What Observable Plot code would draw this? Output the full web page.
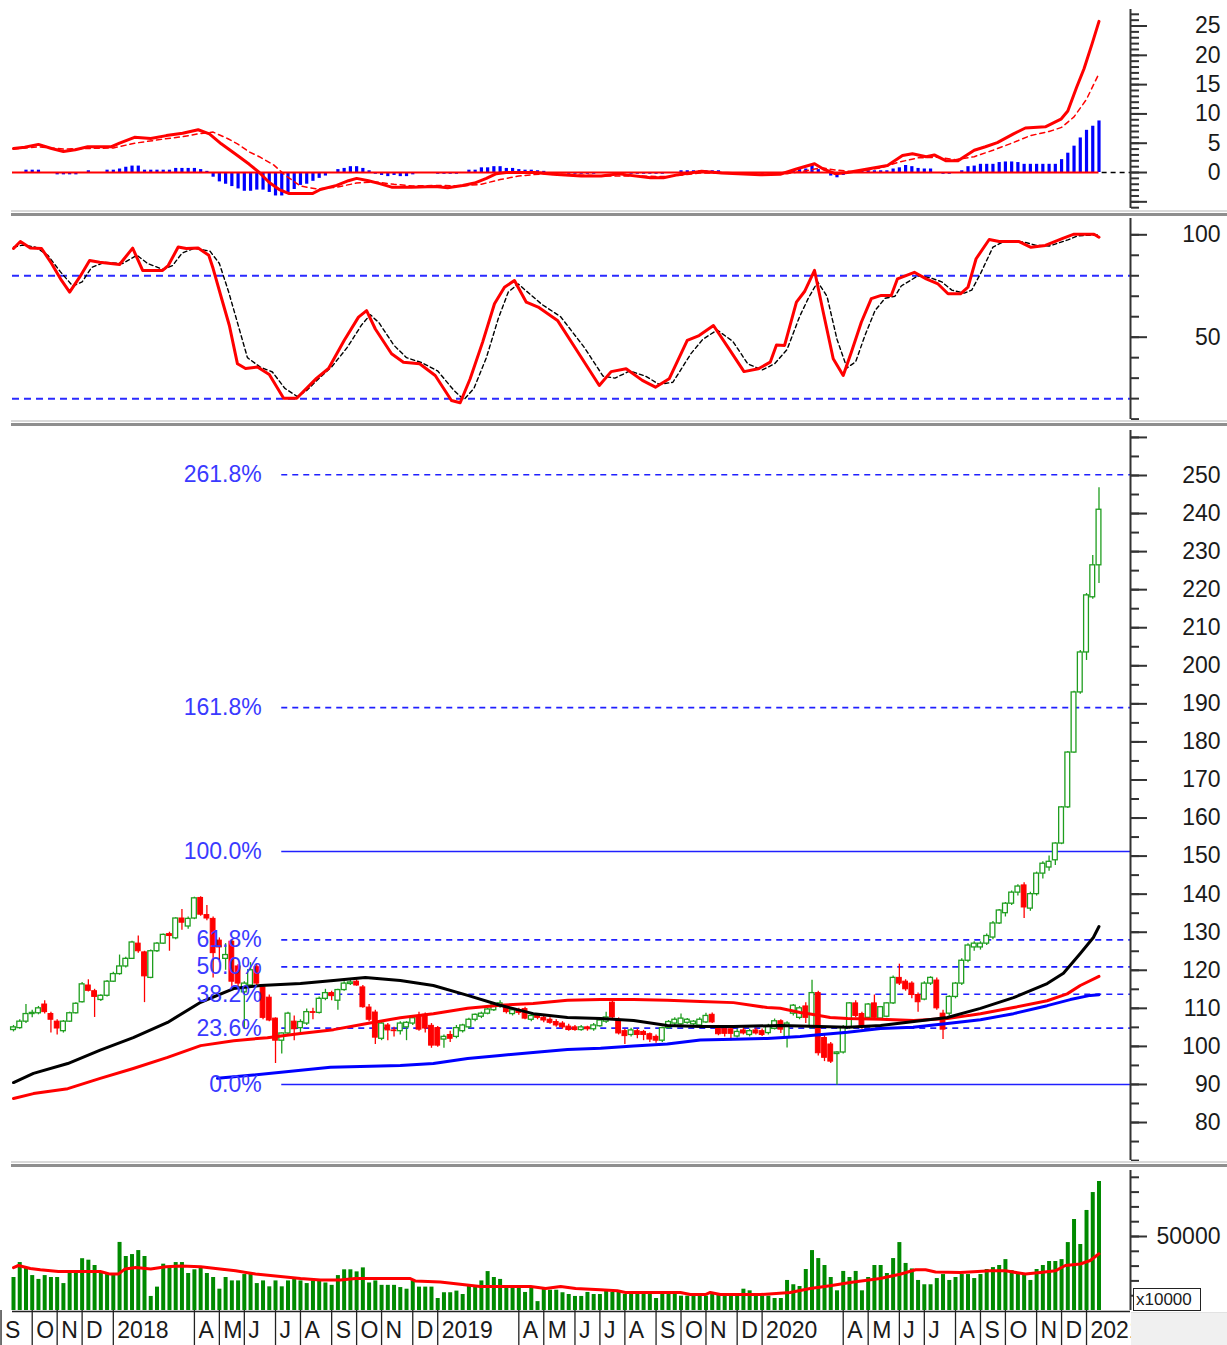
<!DOCTYPE html>
<html>
<head>
<meta charset="utf-8">
<script src="https://cdn.jsdelivr.net/npm/d3@7"></script>
<script src="https://cdn.jsdelivr.net/npm/@observablehq/plot@0.6"></script>
<style>
html,body{margin:0;padding:0;background:#fff;overflow:hidden;}
#chart{position:relative;width:1227px;height:1345px;overflow:hidden;font-family:"Liberation Sans",Arial,sans-serif;background:#fff;}
#chart svg{position:absolute;left:0;}
</style>
</head>
<body>
<div id="chart"></div>
<script>
// ---------------- DATA (weekly bars, Friday dates) ----------------
const firstWeek = "2017-09-15";   // first weekly bar
const open  = [104.3,104.8,106.5,108.5,108.7,111.0,108.5,106.5,104.0,106.5,108.7,111.6,116.0,114.5,112.2,113.3,117.0,119.0,121.0,123.0,127.0,124.7,118.0,125.0,127.0,129.5,128.4,133.6,131.5,133.6,139.0,134.5,133.5,127.8,123.0,127.5,121.0,114.2,116.0,120.8,115.5,112.8,107.3,101.5,103.4,106.5,104.8,106.0,109.0,108.8,112.5,114.0,112.0,114.8,116.4,117.0,115.5,110.2,108.9,102.0,105.5,104.2,104.0,105.0,106.0,108.0,108.3,105.4,104.8,101.8,103.0,102.5,104.0,105.0,107.0,107.8,108.6,109.5,110.5,110.5,108.5,109.5,109.8,107.0,108.0,107.5,107.0,106.4,106.0,105.2,105.0,104.3,105.0,104.5,105.3,106.5,111.5,106.8,104.0,103.0,104.0,103.8,103.2,102.5,101.5,104.8,106.0,105.8,106.2,105.8,105.5,106.3,108.3,105.0,104.5,104.5,102.6,104.2,103.0,104.2,104.0,103.5,104.6,106.6,102.3,108.6,107.5,110.5,105.0,114.0,102.2,100.5,98.0,98.4,105.0,111.3,108.5,107.5,111.3,107.3,107.8,111.3,118.0,117.0,116.5,113.5,112.3,116.5,117.3,108.6,108.6,113.0,116.5,122.5,126.0,126.0,127.0,128.6,132.3,135.0,137.5,140.4,142.3,136.2,140.0,145.4,147.0,148.9,153.3,162.8,177.2,193.0,203.5,218.0,226.4];
const high  = [105.5,107.0,111.0,109.5,110.5,112.0,109.0,107.0,106.8,109.0,111.5,116.8,117.5,115.0,113.6,117.3,119.5,124.0,123.4,127.6,129.0,125.0,125.3,127.3,129.5,130.0,133.8,136.0,134.0,139.2,139.3,137.0,134.0,128.5,127.0,128.0,121.5,117.0,122.0,121.5,116.0,113.5,107.5,103.5,109.0,108.0,107.0,109.8,110.0,113.0,115.0,114.5,115.0,117.0,117.5,117.5,116.0,111.0,109.5,106.5,106.0,105.0,106.5,106.5,108.0,109.0,108.8,106.0,105.2,103.0,104.0,105.5,105.8,107.4,108.5,109.0,110.0,111.5,112.0,111.0,110.0,110.0,110.3,108.5,108.5,108.0,107.5,107.0,106.5,105.8,105.5,105.5,105.3,106.0,107.0,109.0,112.5,107.5,104.5,104.8,104.5,104.2,103.5,103.0,105.0,106.8,107.5,108.5,107.3,106.8,107.5,108.7,108.8,105.5,105.0,105.0,104.5,104.8,104.5,104.8,104.6,105.8,107.2,107.0,106.5,111.0,110.5,111.5,117.4,114.5,103.0,101.0,98.6,105.5,111.5,112.0,109.0,111.3,113.5,110.5,111.5,118.5,121.6,117.5,117.0,114.0,117.0,118.3,118.0,109.5,113.3,116.8,123.0,127.0,127.5,127.5,129.5,132.8,136.0,137.8,140.8,142.5,143.0,140.5,145.8,148.5,150.0,153.5,163.0,177.5,193.3,204.0,219.0,229.0,246.8];
const low   = [103.8,104.5,106.0,107.5,108.3,108.5,103.5,103.0,103.5,106.3,108.5,111.4,114.3,107.6,111.8,113.0,116.8,118.7,120.6,122.8,124.5,111.5,117.8,124.7,126.8,125.0,128.0,130.5,130.8,133.3,134.2,133.0,118.0,122.0,120.0,115.0,115.5,104.5,115.5,116.0,107.0,106.5,95.5,98.0,103.0,101.5,103.5,105.5,107.0,108.5,112.0,112.0,109.5,114.5,116.0,115.8,110.0,106.5,100.5,101.5,101.5,102.5,103.0,101.5,105.5,104.0,103.5,99.5,99.8,99.5,101.0,102.0,103.5,104.5,106.5,107.3,108.3,109.2,110.0,108.5,108.0,108.2,107.0,106.5,107.0,106.2,105.8,105.0,104.5,104.0,104.0,104.0,104.0,104.0,105.0,106.0,107.0,103.0,100.5,102.5,102.0,101.5,101.0,100.8,101.0,104.5,105.5,105.5,105.8,105.2,105.0,106.0,106.0,102.8,102.5,101.5,102.2,103.0,102.5,103.0,102.6,103.0,104.3,103.4,99.6,108.0,107.0,106.0,104.5,97.5,96.0,95.5,89.8,98.0,104.5,107.5,104.5,107.0,107.0,107.0,107.5,111.0,116.0,114.5,112.5,109.0,112.0,116.0,109.5,101.8,108.0,112.5,116.0,122.0,125.0,125.3,126.5,128.0,132.0,134.0,137.0,139.5,133.6,135.5,139.5,144.0,146.0,147.5,153.0,162.5,177.0,192.5,201.4,217.5,221.6];
const close = [105.0,106.5,108.5,108.8,110.0,109.0,107.0,104.7,106.5,108.7,111.2,116.3,114.6,113.0,113.3,117.0,119.0,121.0,123.0,127.3,125.0,118.4,125.0,127.0,129.3,129.0,133.6,132.5,133.5,138.9,134.6,133.6,124.5,126.0,124.0,117.0,116.5,116.5,120.0,116.5,107.5,106.8,101.5,103.4,108.6,104.5,106.4,109.0,108.8,112.5,114.0,113.2,114.8,116.5,116.8,116.0,110.3,107.0,102.3,106.0,104.2,104.0,106.0,106.2,107.4,104.4,104.7,100.2,100.2,102.5,102.0,104.8,105.5,107.0,108.3,108.6,109.7,111.0,111.3,109.0,109.5,108.8,107.3,108.0,107.5,106.8,106.2,105.5,105.0,104.3,104.3,105.0,104.5,105.5,106.8,107.6,107.6,103.4,102.7,104.2,103.0,103.0,101.8,101.5,104.8,106.4,107.0,107.3,107.0,106.5,107.0,108.0,106.3,103.2,103.3,103.3,103.8,103.4,104.0,103.4,103.0,105.3,106.6,104.4,106.0,110.7,110.0,107.5,114.0,98.2,97.0,96.0,98.4,105.0,111.3,108.0,105.3,111.0,107.5,110.3,111.3,118.0,116.5,115.0,113.5,111.6,116.5,118.0,110.0,104.4,113.0,116.5,122.5,126.5,127.0,127.0,129.0,132.3,135.7,137.5,140.4,142.0,136.5,140.0,145.4,148.0,148.5,153.3,162.8,177.2,193.0,203.5,218.5,226.4,241.0];
const volume = [22300,32400,28400,23600,21000,23600,22300,22300,18200,25000,25000,35000,34000,30400,25700,24300,24300,46000,36500,37800,40500,36500,9500,15800,31300,28400,32400,32400,25000,27500,29000,25000,22300,14400,22300,20000,20000,24300,24300,18200,20000,16000,20000,16000,20000,21000,20000,18200,20000,20000,18600,17000,23600,27500,27500,26100,28800,18600,20000,17000,17000,17000,15500,14400,20000,15800,15800,15800,8100,12000,12000,13100,10800,16200,16200,20000,26300,22300,21000,16200,14900,14900,12200,14900,6000,14900,13700,13700,12000,10800,9500,9500,12200,10800,10800,13100,12200,12200,10800,10800,10800,10800,10800,8100,10800,10800,10800,9700,9700,9700,9700,9700,10800,10800,10800,9700,9700,14400,13300,9700,9700,9700,8100,8100,20300,17400,16200,27700,40500,35100,30400,22300,13300,26400,22300,26400,13300,22300,30400,30400,25000,35100,45900,31800,28100,20300,17400,17400,21600,24300,20300,22300,24300,24300,21600,24300,27700,29000,30400,34400,27000,24900,24300,20300,27700,30400,33100,33100,34400,45900,61500,44600,67600,79700,87200];
const macdHist = [0,0,0.4,0.4,0.4,0,0,-0.4,-0.4,-0.4,-0.4,0,0.3,0,0,0.4,0.4,0.6,0.9,1.1,1.1,0.4,0.4,0.4,0.4,0.4,0.7,0.7,0.7,0.7,0.5,0.2,-0.8,-1.6,-2.0,-2.4,-2.8,-3.2,-3.2,-3.0,-3.0,-3.4,-4.0,-4.0,-3.7,-2.9,-2.2,-2.0,-1.5,-1.0,-0.6,0,0.5,0.7,1.0,1.0,0.7,0.3,-0.3,-0.5,-0.7,-0.5,-0.7,-0.7,-0.4,0,0,0,-0.3,-0.3,-0.3,-0.3,0,0.4,0.4,0.8,0.8,1.0,1.0,0.7,0.7,0.5,0.4,0.4,0.3,0.2,0,0,0,-0.3,-0.3,-0.3,-0.3,-0.3,0,0,0,0,0,-0.3,-0.3,-0.3,-0.3,-0.3,-0.3,0,0,0.3,0.3,0.3,0.3,0.3,0.3,0.3,0,-0.3,-0.3,-0.3,-0.3,-0.3,-0.3,0,0,0,0,0.4,0.5,0.6,1.2,0.5,0,-0.6,-0.9,-0.5,0,0,0.3,0.3,0.3,0.3,0.3,0.6,0.8,1.2,1.0,0.7,0.6,0.6,0,-0.3,-0.3,0,0.3,1.0,1.1,1.4,1.4,1.4,1.7,1.8,1.8,1.7,1.4,1.4,1.4,1.4,1.4,1.4,2.2,3.3,4.5,5.9,7.2,7.9,8.8];
// smooth lines read at selected weeks: [week index, value]
const macdLine = [[0,4.1],[1.8,4.3],[4,4.8],[6.1,4.1],[8,3.6],[9.9,3.9],[11.9,4.4],[15.7,4.4],[17,5.0],[19.4,6.0],[22,5.8],[24.5,6.3],[27.1,6.7],[29.6,7.3],[31.4,6.6],[33.3,4.9],[35.9,2.9],[37.8,1.4],[39.4,0],[41,-1.7],[42.6,-2.9],[44.2,-3.6],[47.9,-3.6],[49.2,-2.9],[51.8,-2.2],[53.7,-1.4],[55,-1.0],[56.9,-1.4],[58.7,-1.9],[60.6,-2.5],[63.8,-2.5],[67.6,-2.4],[69.6,-2.6],[72,-2.2],[73.9,-1.8],[75.8,-1.0],[77.4,-0.2],[79,0],[83.5,0],[86.5,-0.3],[91,-0.6],[94.2,-0.6],[97.1,-0.2],[98.2,-0.4],[102.1,-0.9],[104.2,-0.9],[106.4,-0.4],[110.3,0.2],[113.5,-0.1],[119.7,-0.4],[122.9,-0.3],[125.5,0.6],[128.4,1.5],[129.8,0.6],[131.7,-0.2],[133.7,0],[136.9,0.6],[140.1,1.2],[142.5,2.9],[144.1,3.2],[146.3,2.7],[147.6,3.0],[149.5,2.0],[151.4,2.0],[154,3.8],[155.8,4.4],[157.7,5.1],[160.3,6.6],[162.2,7.6],[165.4,7.8],[167.9,9.1],[169,10.5],[170.4,14.5],[171.6,17.7],[172.9,22],[174,25.8]];
const macdSignal = [[0,4.0],[4,4.4],[8,4.0],[12,4.1],[16,4.2],[19.4,5.0],[24,5.7],[27,6.1],[29.6,6.6],[32,6.9],[34.3,5.8],[35.9,4.9],[37.8,3.5],[39.4,2.7],[41.7,1.3],[43.6,-0.5],[46,-2.3],[48.6,-2.8],[51.8,-2.5],[55,-1.8],[58,-1.6],[61,-2.0],[64,-2.3],[68,-2.2],[72,-2.3],[75,-2.0],[78,-1.2],[81,-0.6],[85,-0.2],[90,-0.4],[95,-0.6],[100,-0.6],[105,-0.7],[110,-0.1],[115,-0.1],[120,-0.3],[124,-0.2],[127,0.3],[129.5,0.8],[132,0.4],[135,0.1],[139,0.8],[142,1.8],[145,2.5],[148,2.6],[151,2.2],[154,2.7],[157,3.8],[160,5.0],[163,6.3],[166,7.0],[168,7.7],[170,9.5],[172,12.5],[174,16.9]];
const stochK = [[0,93.3],[1.1,96.7],[2.7,93.5],[4.5,93.3],[6.1,86],[7.7,77.7],[9,72],[10.6,79.3],[12.2,87.5],[13.8,86.6],[17,85.5],[19.1,93.5],[20.7,82.6],[23.9,82.6],[24.8,85],[26.4,94],[27.7,93.3],[29.6,93.5],[31.3,90],[32,83.5],[33.3,69.5],[34.6,55.7],[35.9,37],[37.2,34.7],[39.1,35.4],[41,31.8],[43.3,20.2],[45.4,20.2],[48.6,30],[50.5,34.7],[53,48.4],[55.3,59.8],[56.6,63],[58,54],[60.6,41.9],[62.5,37.8],[65.1,37],[67.6,31.3],[70.2,19.1],[71.6,18],[73.2,29.7],[75.2,47.6],[77.1,66.3],[78.7,74.4],[80.3,77.7],[82.2,67.1],[84.1,64.7],[87.2,58.2],[91,40.2],[93.9,26.4],[95.8,33.2],[98.2,34.6],[100.8,28.9],[102.9,25.6],[105.1,29.7],[108,48.4],[109.9,50.8],[112.2,55.7],[114.7,44.3],[117.1,33.2],[119.4,34.6],[121.3,37.8],[122.3,46.2],[123.6,46],[125.5,67.1],[126.8,72.3],[128.4,82.6],[129.8,62.2],[131.4,39.5],[133,31.3],[134.3,42.7],[135.9,57.3],[137.5,68.8],[139.1,70.4],[140.7,70.4],[141.7,78.5],[144.4,81.7],[146.3,78.5],[148.2,76],[149.8,71.2],[151.8,71.2],[153,74.4],[154.3,88.3],[156.4,97.7],[158,96.7],[161.2,96.7],[163.1,93.9],[165.4,94.8],[168.3,98.4],[170,100.3],[173.2,100.3],[174,98.8]];
const stochD = [[0,94],[1.5,95],[3.5,94],[5.5,90],[7.5,82],[9.5,75],[11,77],[12.5,84],[14.5,86.5],[17.5,86],[19.8,90],[21.5,86],[24,83],[25.5,85],[27,91],[29,93.5],[31.5,92],[33,86],[34.5,72],[36,56],[37.5,40],[39.5,35.5],[41.5,33],[43.5,25],[45.5,21],[47,24],[49,30],[51,35.5],[53.5,45],[55.8,56],[57.2,61],[58.6,57],[61,46],[63,40],[65.5,37.5],[68,33.5],[70.6,24],[72.2,19.5],[73.8,25],[75.8,40],[77.7,59],[79.3,72],[80.9,76],[82.8,71],[84.7,66],[87.7,60],[91.5,45],[94.5,31],[96.4,30],[98.8,33.5],[101.3,31],[103.5,27],[105.7,28],[108.6,42],[110.5,49],[112.8,53.5],[115.3,48],[117.7,37],[120,34],[122,37],[124,44],[126,60],[127.4,69],[128.9,77],[130.4,70],[132,49],[133.6,35],[135,38],[136.5,51],[138.1,63],[139.7,69],[141.3,70],[142.3,75],[145,80],[147,79],[148.8,77],[150.4,73],[152.4,71.5],[153.6,73],[155,81],[157,94],[158.6,96.5],[162,96.5],[163.7,95],[166,94.5],[169,97.5],[170.6,99.5],[174,100]];
const maBlack = [[0,90.5],[3.2,92.9],[8.7,95.5],[13.9,99],[19.2,102.3],[24.7,106.3],[30,111.6],[35.3,115.2],[39.6,116],[46,116.5],[51.3,117.3],[56.4,118.1],[62,117.3],[67.3,116],[72.8,113.4],[78,110.8],[83.3,108.6],[88.8,107.6],[94.1,107.3],[99.4,106.8],[104.8,105.5],[110.1,105.2],[115.4,105.2],[122.9,105.5],[129.3,105.2],[133.7,105],[139,105.5],[149.7,107.6],[155,110],[160.3,112.8],[165.7,116.5],[168.3,119.2],[171,124.4],[173.1,128.6],[174,131.5]];
const maRed = [[0,86.3],[3.2,87.6],[8.7,88.9],[13.9,91.6],[19.2,94.2],[24.7,97.1],[30,100.2],[35.3,101.5],[40.7,102.3],[46,103.4],[51.3,104.4],[56.7,106],[62,107.5],[67.3,108.6],[72.8,110],[78,110.8],[83.3,111.3],[88.8,112.1],[94.1,112.3],[99.4,112.3],[104.8,112.1],[110.1,111.8],[115.4,111.5],[120.8,110.2],[122.9,110],[126.1,108.9],[128.2,108.4],[130.9,107.6],[133.7,107.3],[139,107.1],[144.3,106.8],[149.7,107.3],[155,108.6],[160.3,110.2],[165.7,112],[168.9,113.8],[171,116],[174,118.4]];
const maBlue = [[32.7,91.6],[38,92.4],[50.8,94.5],[62,95],[67.3,95.5],[72.8,96.8],[78,97.6],[83.3,98.4],[88.8,99.2],[94.1,99.5],[99.4,100.1],[104.8,100.6],[110.1,101.7],[115.4,101.9],[120.8,102.1],[126.1,102.6],[128.2,102.9],[133.7,103.7],[139,104.7],[144.2,105],[149.7,106],[155,107],[160.3,108.6],[165.7,110.7],[169.4,112.3],[172.6,113.4],[174,113.6]];
const volMA = [[0,29000],[0.8,30400],[2.7,28400],[4.3,27500],[7.2,26300],[13.9,26300],[15.5,24600],[16.8,24600],[17.9,28100],[19.6,29000],[22,28100],[24.4,29600],[26.8,30000],[30,29600],[32.4,28400],[35.6,26800],[38.8,24600],[42.8,23000],[46,21600],[49.2,20600],[52.4,20600],[54.8,21600],[63.6,21600],[64.4,20000],[68.4,19300],[71.6,17700],[74.8,16200],[82.9,16200],[85.3,14900],[87.7,16200],[90.1,14900],[94.1,14000],[96.8,13300],[98.1,12200],[106.9,12200],[108.5,10800],[110.9,10800],[111.7,12200],[113.3,10800],[119.7,10800],[124.5,12200],[127.7,14900],[130.9,16700],[134.1,18900],[138.9,21600],[142.1,24500],[144.6,27500],[146.2,27500],[147.8,26000],[151.8,25700],[156.6,26800],[159,26800],[162.2,24600],[164.6,25700],[167,26800],[168.6,30400],[171,31400],[172.6,33800],[174,38300]];
const fibLabels = ["0.0%","23.6%","38.2%","50.0%","61.8%","100.0%","161.8%","261.8%"];
const fibLevels = [90, 104.8, 113.7, 120.9, 128.0, 151.2, 189.0, 250.2];
const fibSolid  = [true,false,false,false,false,true,false,false];
const fibFrom = "2018-07-13";
const monthTicks = [["2017-09","S"],["2017-10","O"],["2017-11","N"],["2017-12","D"],["2018-01","2018"],["2018-04","A"],["2018-05","M"],["2018-06","J"],["2018-07","J"],["2018-08","A"],["2018-09","S"],["2018-10","O"],["2018-11","N"],["2018-12","D"],["2019-01","2019"],["2019-04","A"],["2019-05","M"],["2019-06","J"],["2019-07","J"],["2019-08","A"],["2019-09","S"],["2019-10","O"],["2019-11","N"],["2019-12","D"],["2020-01","2020"],["2020-04","A"],["2020-05","M"],["2020-06","J"],["2020-07","J"],["2020-08","A"],["2020-09","S"],["2020-10","O"],["2020-11","N"],["2020-12","D"],["2021-01","2021"]];
const macdTickLabels = [0,5,10,15,20,25];
const stochTickLabels = [50,100];
const priceTickLabels = [80,90,100,110,120,130,140,150,160,170,180,190,200,210,220,230,240,250];
const volTickLabels = [50000];

// ---------------- HELPERS ----------------
const DAY = 864e5;
const t0 = new Date(firstWeek + "T00:00:00Z");
const wk = i => new Date(+t0 + i * 7 * DAY);
const xDomain = [wk(-0.16), wk(179.05)];
const FONT = "'Liberation Sans', Arial, Helvetica, sans-serif";
const RED = "#ff0000", GREEN = "#1f9e1f", BLUE = "#0000ff", AX = "#333";
const pts = arr => arr.map(([i, v]) => ({date: wk(i), v}));

function base(h, mt, mb, ydom, xaxis) {
  return {
    width: 1227, height: h, marginLeft: 12, marginRight: 97, marginTop: mt, marginBottom: mb,
    x: xaxis ? {type: "utc", domain: xDomain, label: null} : {type: "utc", domain: xDomain, axis: null},
    y: {domain: ydom, label: null},
    style: {fontFamily: FONT, background: "transparent", overflow: "visible"}
  };
}
function rightAxis(minor, major, labels) {
  return [
    Plot.ruleX([xDomain[1]], {stroke: AX, strokeWidth: 2}),
    Plot.axisY({anchor: "right", label: null, ticks: minor, tickSize: 8, tickFormat: () => "", stroke: AX, strokeWidth: 2}),
    Plot.axisY({anchor: "right", label: null, ticks: major, tickSize: 16, tickFormat: () => "", stroke: AX, strokeWidth: 2}),
    Plot.text(labels, {y: d => d, text: d => String(d), frameAnchor: "right", dx: 90, textAnchor: "end", fontSize: 23, fill: "#1a1a1a"})
  ];
}

const chart = document.getElementById("chart");
function place(svg, top) { svg.style.position = "absolute"; svg.style.top = top + "px"; svg.style.left = "0px"; chart.appendChild(svg); }

// ---------------- PANEL 1 : MACD ----------------
const hist = macdHist.map((v, i) => ({date: wk(i), v})).filter(d => d.v !== 0);
const p1 = Plot.plot({
  ...base(211, 9, 3, [-6.14, 27.82]),
  marks: [
    Plot.ruleX(hist, {x: "date", y1: 0, y2: "v", stroke: BLUE, strokeWidth: 3.2}),
    Plot.ruleY([0], {x1: () => xDomain[0], x2: () => wk(174), stroke: RED, strokeWidth: 2}),
    Plot.ruleY([0], {x1: () => wk(174.5), x2: () => xDomain[1], stroke: "#000", strokeWidth: 1.5, strokeDasharray: "5,4"}),
    Plot.line(pts(macdSignal), {x: "date", y: "v", stroke: RED, strokeWidth: 1.5, strokeDasharray: "5,4"}),
    Plot.line(pts(macdLine), {x: "date", y: "v", stroke: RED, strokeWidth: 3}),
    ...rightAxis(d3.range(-6, 28), d3.range(-5, 26, 5), macdTickLabels)
  ]
});
place(p1, 0);

// ---------------- PANEL 2 : Stochastic ----------------
const p2 = Plot.plot({
  ...base(206, 1, 4, [9.81, 107.96]),
  marks: [
    Plot.ruleY([80, 20], {stroke: "#2a2aff", strokeWidth: 2, strokeDasharray: "7,5"}),
    Plot.line(pts(stochD), {x: "date", y: "v", stroke: "#000", strokeWidth: 1.4, strokeDasharray: "4,3"}),
    Plot.line(pts(stochK), {x: "date", y: "v", stroke: RED, strokeWidth: 3}),
    ...rightAxis(d3.range(10, 101, 10), [50, 100], stochTickLabels)
  ]
});
place(p2, 217);

// ---------------- PANEL 3 : Price ----------------
const candles = open.map((o, i) => ({
  date: wk(i), x1: new Date(+wk(i) - 2.7 * DAY), x2: new Date(+wk(i) + 2.7 * DAY),
  o, h: high[i], l: low[i], c: close[i], up: close[i] >= o
}));
const ups = candles.filter(d => d.up), downs = candles.filter(d => !d.up);
const fib = fibLevels.map((v, i) => ({v, label: fibLabels[i], solid: fibSolid[i]}));
const fibX1 = new Date(fibFrom + "T00:00:00Z");
const p3 = Plot.plot({
  ...base(736, 3, 3, [70.02, 261.82]),
  marks: [
    Plot.ruleY(fib.filter(d => !d.solid), {y: "v", x1: () => fibX1, x2: () => xDomain[1], stroke: "#2020ff", strokeWidth: 1.6, strokeDasharray: "6,5"}),
    Plot.ruleY(fib.filter(d => d.solid), {y: "v", x1: () => fibX1, x2: () => xDomain[1], stroke: "#2020ff", strokeWidth: 1.6}),
    Plot.ruleX(ups, {x: "date", y1: "l", y2: "h", stroke: GREEN, strokeWidth: 1.3}),
    Plot.ruleX(downs, {x: "date", y1: "l", y2: "h", stroke: RED, strokeWidth: 1.3}),
    Plot.rect(ups, {x1: "x1", x2: "x2", y1: "o", y2: "c", fill: "white", stroke: GREEN, strokeWidth: 1.3}),
    Plot.rect(downs, {x1: "x1", x2: "x2", y1: "c", y2: "o", fill: RED, stroke: RED, strokeWidth: 1}),
    Plot.line(pts(maBlue), {x: "date", y: "v", stroke: BLUE, strokeWidth: 3}),
    Plot.line(pts(maRed), {x: "date", y: "v", stroke: RED, strokeWidth: 3}),
    Plot.line(pts(maBlack), {x: "date", y: "v", stroke: "#000", strokeWidth: 3}),
    Plot.text(fib, {x: () => fibX1, y: "v", text: "label", textAnchor: "end", dx: -20, fontSize: 23, fill: "#3a3aff"}),
    ...rightAxis(d3.range(70, 261, 5), d3.range(80, 261, 10), priceTickLabels)
  ]
});
place(p3, 427);

// ---------------- PANEL 4 : Volume ----------------
const vols = volume.map((v, i) => ({date: wk(i), v}));
const tickDate = m => d3.utcFriday.ceil(new Date(m + "-01T00:00:00Z"));
const mt = monthTicks.map(([m, label]) => ({date: tickDate(m), label}));
const p4 = Plot.plot({
  ...base(177, 2, 35, [0, 94595], true),
  marks: [
    Plot.ruleX(vols, {x: "date", y1: 0, y2: "v", stroke: "#008a00", strokeWidth: 4}),
    Plot.line(pts(volMA), {x: "date", y: "v", stroke: RED, strokeWidth: 3}),
    Plot.ruleY([0], {stroke: "#222", strokeWidth: 1.5, dy: 1}),
    Plot.axisX({ticks: mt.map(d => d.date), label: null, tickSize: 35, tickFormat: () => "", stroke: "#222", strokeWidth: 1.3}),
    Plot.text(mt, {x: "date", text: "label", frameAnchor: "bottom", dy: 27, dx: 4, textAnchor: "start", fontSize: 23, fill: "#1a1a1a"}),
    ...rightAxis(d3.range(10000, 90001, 10000), [50000], volTickLabels)
  ]
});
place(p4, 1168);

// ---------------- Decorations (separators, boxes) ----------------
function div(css) { const d = document.createElement("div"); d.style.cssText = "position:absolute;" + css; chart.appendChild(d); return d; }
[[210, 213], [420, 423], [1161, 1164]].forEach(([a, b]) => {
  div(`left:11px;width:1216px;top:${a}px;height:2px;background:#d9d9d9;`);
  div(`left:11px;width:1216px;top:${b}px;height:3px;background:#8e8e8e;`);
});
div("left:1131px;top:1312px;width:96px;height:33px;background:#f0f0f0;border-top:1px solid #e2e2e2;");
const box = div("left:1133px;top:1288px;width:64px;height:21px;border:1px solid #222;background:#fff;font:17px 'Liberation Sans',Arial,sans-serif;line-height:21px;padding-left:2px;color:#1a1a1a;box-sizing:content-box;");
box.textContent = "x10000";
</script>
</body>
</html>
